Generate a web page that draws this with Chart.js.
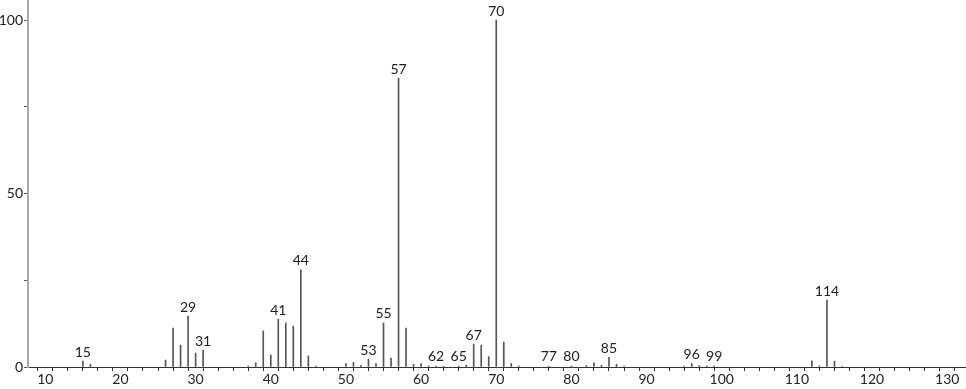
<!DOCTYPE html>
<html><head><meta charset="utf-8">
<script src="https://cdn.jsdelivr.net/npm/chart.js@4"></script>
<style>html,body{margin:0;padding:0;background:#fff;}#wrap{width:966px;height:389px;}</style>
</head><body><div id="wrap"><canvas id="c"></canvas></div>
<script>
const massValues = [15,16,26,27,28,29,30,31,37,38,39,40,41,42,43,44,45,46,50,51,52,53,54,55,56,57,58,59,60,61,62,63,65,66,67,68,69,70,71,72,73,77,80,82,83,84,85,86,87,95,96,97,98,99,112,113,114,115,116];
const intensities = [1.7,0.8,2.0,11.2,6.3,14.7,4.0,4.9,0.3,1.2,10.4,3.5,13.8,12.7,11.8,28.0,3.2,0.3,1.0,1.3,0.5,2.3,1.0,12.7,2.6,83.3,11.2,0.8,1.0,0.3,0.3,0.2,0.3,0.5,6.6,6.3,3.0,100,7.2,1.0,0.3,0.3,0.3,0.4,1.2,0.5,2.8,0.8,0.3,0.3,1.0,0.4,0.3,0.3,1.8,0.3,19.3,1.7,0.2];
const labeledMasses = [15,29,31,41,44,53,55,57,62,65,67,70,77,80,85,96,99,114];
const xTickValues = [8,10,12,14,16,18,20,22,24,26,28,30,32,34,36,38,40,42,44,46,48,50,52,54,56,58,60,62,64,66,68,70,72,74,76,78,80,82,84,86,88,90,92,94,96,98,100,102,104,106,108,110,112,114,116,118,120,122,124,126,128,130,132];
const xLabelValues = [10,20,30,40,50,60,70,80,90,100,110,120,130];
const yTickValues = [0,25,50,75,100];
const yLabelValues = [0,50,100];

const FONT = "Lato, 'DejaVu Sans', sans-serif";
const points = massValues.map((m,i)=>({x:m,y:intensities[i]}));

const peakLabels = {
  id:'peakLabels',
  afterDatasetsDraw(chart){
    const ctx = chart.ctx;
    const meta = chart.getDatasetMeta(0);
    ctx.save();
    ctx.font = "14px " + FONT;
    ctx.fillStyle = '#222';
    ctx.textAlign = 'center';
    ctx.textBaseline = 'bottom';
    meta.data.forEach((el,i)=>{
      if (labeledMasses.includes(massValues[i])) {
        ctx.fillText(String(massValues[i]), el.x, el.y - 2);
      }
    });
    ctx.restore();
  }
};

new Chart(document.getElementById('c'), {
  type:'bar',
  data:{datasets:[{data:points, backgroundColor:'#555', borderWidth:0, barThickness:1, grouped:false}]},
  options:{
    responsive:true, maintainAspectRatio:false, animation:false,
    layout:{padding:0},
    plugins:{legend:{display:false}, tooltip:{enabled:false}},
    scales:{
      x:{type:'linear', min:7.7, max:132.5, offset:false,
        afterBuildTicks(axis){ axis.ticks = xTickValues.map(v=>({value:v})); },
        afterFit(axis){ axis.height = 22; axis.paddingLeft = 0; axis.paddingRight = 0; },
        grid:{drawOnChartArea:false, drawTicks:true, tickLength:4, tickColor:'#333'},
        border:{color:'#333', width:1},
        ticks:{autoSkip:false, maxRotation:0, padding:0, color:'#222', font:{family:FONT,size:14},
          callback:(v)=> xLabelValues.includes(v) ? String(v) : ''}
      },
      y:{type:'linear', min:0, max:105.8,
        afterBuildTicks(axis){ axis.ticks = yTickValues.map(v=>({value:v})); },
        afterFit(axis){ axis.width = 28; axis.paddingTop = 0; axis.paddingBottom = 0; },
        grid:{drawOnChartArea:false, drawTicks:true, tickLength:4, tickColor:'#555'},
        border:{color:'#aaa', width:2},
        ticks:{autoSkip:false, padding:1, color:'#222', font:{family:FONT,size:14},
          callback:(v)=> yLabelValues.includes(v) ? String(v) : ''}
      }
    }
  },
  plugins:[peakLabels]
});
</script></body></html>
